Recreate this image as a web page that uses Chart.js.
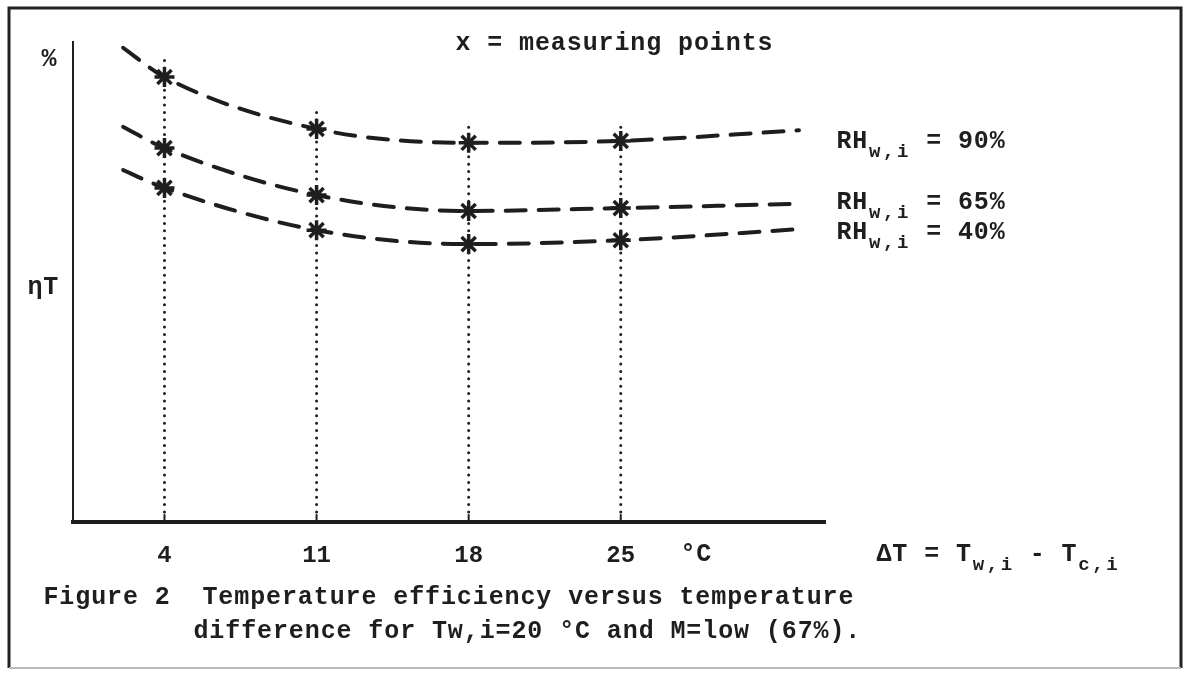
<!DOCTYPE html>
<html>
<head>
<meta charset="utf-8">
<script src="https://cdn.jsdelivr.net/npm/chart.js@4/dist/chart.umd.min.js"></script>
<style>
  html, body { margin: 0; padding: 0; background: #fff; }
  #fig { display: block; }
</style>
</head>
<body>
<canvas id="fig" width="1184" height="676"></canvas>
<script>
// temperature difference dT (degC); first and last entries are the curve ends
const deltaT = [2.1, 4, 11, 18, 25, 33.2];
const measured = [false, true, true, true, true, false];
const xTicks = [4, 11, 18, 25];

// temperature efficiency (relative %, no scale printed) per inlet humidity
const rhLevels = [90, 65, 40];
const eff90 = [98.8, 92.7, 81.9, 79.0, 79.4, 81.6];
const eff65 = [82.3, 77.9, 68.1, 64.8, 65.4, 66.3];
const eff40 = [73.3, 69.6, 60.8, 57.9, 58.7, 61.0];

const ink = '#1e1e1e';
const FONT = '"Liberation Mono", "DejaVu Sans Mono", monospace';

// typewriter style: every character sits on a fixed pitch
function typeLine(ctx, parts, x, y) {
  let cx = x;
  parts.forEach(p => {
    const sub = typeof p !== 'string';
    const text = sub ? p.sub : p;
    const size = sub ? 19 : 25;
    const pitch = sub ? 14 : 15.9;
    ctx.font = `bold ${size}px ${FONT}`;
    for (const ch of text) {
      ctx.fillText(ch, cx + pitch / 2, y + (sub ? 10 : 0));
      cx += pitch;
    }
  });
  return cx;
}

const paper = {
  id: 'paper',
  beforeDraw(chart) {
    const { ctx, width, height } = chart;
    ctx.save();
    ctx.fillStyle = '#fff';
    ctx.fillRect(0, 0, width, height);
    ctx.strokeStyle = '#222';
    ctx.lineWidth = 3;
    ctx.beginPath();
    ctx.moveTo(9, 668);
    ctx.lineTo(9, 8);
    ctx.lineTo(1181, 8);
    ctx.lineTo(1181, 668);
    ctx.stroke();
    ctx.strokeStyle = '#bbb';
    ctx.lineWidth = 2;
    ctx.beginPath();
    ctx.moveTo(9, 668);
    ctx.lineTo(1181, 668);
    ctx.stroke();
    ctx.restore();
  }
};

// dotted verticals through the measuring points
const guides = {
  id: 'guides',
  beforeDatasetsDraw(chart) {
    const { ctx, chartArea, scales: { x, y } } = chart;
    ctx.save();
    ctx.strokeStyle = ink;
    xTicks.forEach(v => {
      const px = x.getPixelForValue(v);
      const top = y.getPixelForValue(eff90[deltaT.indexOf(v)]) - 20;
      ctx.lineWidth = 3;
      ctx.lineCap = 'round';
      ctx.setLineDash([0, 7.4]);
      ctx.beginPath();
      ctx.moveTo(px, chartArea.bottom - 10);
      ctx.lineTo(px, top);
      ctx.stroke();
      ctx.setLineDash([]);
      ctx.lineWidth = 2;
      ctx.beginPath();
      ctx.moveTo(px, chartArea.bottom);
      ctx.lineTo(px, chartArea.bottom - 7);
      ctx.stroke();
    });
    ctx.restore();
  }
};

const notes = {
  id: 'notes',
  afterDraw(chart) {
    const { ctx, chartArea } = chart;
    const r = chartArea.right;
    ctx.save();
    ctx.fillStyle = ink;
    ctx.textAlign = 'center';
    ctx.textBaseline = 'middle';

    typeLine(ctx, ['x = measuring points'], 455, 44);
    typeLine(ctx, ['%'], 41, 60);
    typeLine(ctx, ['\u03b7T'], 27, 288);

    const labelY = [142, 203, 233];
    rhLevels.forEach((rh, i) => {
      typeLine(ctx, ['RH', { sub: 'w,i' }, ' = ' + rh + '%'], r + 11, labelY[i]);
    });

    typeLine(ctx, ['\u00b0C'], 680, 555);
    typeLine(ctx, ['\u0394T = T', { sub: 'w,i' }, ' - T', { sub: 'c,i' }], 876, 555);

    typeLine(ctx, ['Figure 2  Temperature efficiency versus temperature'], 43, 598);
    typeLine(ctx, ['difference for Tw,i=20 \u00b0C and M=low (67%).'], 193, 632);
    ctx.restore();
  }
};

function series(values) {
  return deltaT.map((x, i) => ({ x, y: values[i] }));
}

function curve(label, values) {
  return {
    label,
    data: series(values),
    borderColor: ink,
    borderWidth: 4,
    borderDash: [20, 13],
    borderCapStyle: 'round',
    cubicInterpolationMode: 'monotone',
    pointStyle: 'star',
    pointRadius: measured.map(m => (m ? 10 : 0)),
    pointBorderWidth: 3.5,
    pointBorderColor: ink,
    pointBackgroundColor: ink,
    fill: false
  };
}

new Chart(document.getElementById('fig'), {
  type: 'line',
  data: {
    datasets: [
      curve('RH 90%', eff90),
      curve('RH 65%', eff65),
      curve('RH 40%', eff40)
    ]
  },
  options: {
    responsive: false,
    animation: false,
    devicePixelRatio: 1,
    layout: { padding: { left: 73, right: 359, top: 42, bottom: 84 } },
    plugins: { legend: { display: false }, tooltip: { enabled: false } },
    scales: {
      x: {
        type: 'linear',
        min: -0.21,
        max: 34.4,
        afterBuildTicks: s => { s.ticks = xTicks.map(v => ({ value: v })); },
        afterFit: s => { s.height = 70; },
        grid: { display: false },
        border: { display: true, color: ink, width: 4 },
        ticks: {
          color: ink,
          padding: 12,
          autoSkip: false,
          maxRotation: 0,
          font: { family: FONT, size: 24, weight: 'bold' }
        }
      },
      y: {
        min: 0,
        max: 100,
        afterFit: s => { s.width = 0; },
        grid: { display: false },
        border: { display: true, color: ink, width: 2 },
        ticks: { display: false }
      }
    }
  },
  plugins: [paper, guides, notes]
});
</script>
</body>
</html>
